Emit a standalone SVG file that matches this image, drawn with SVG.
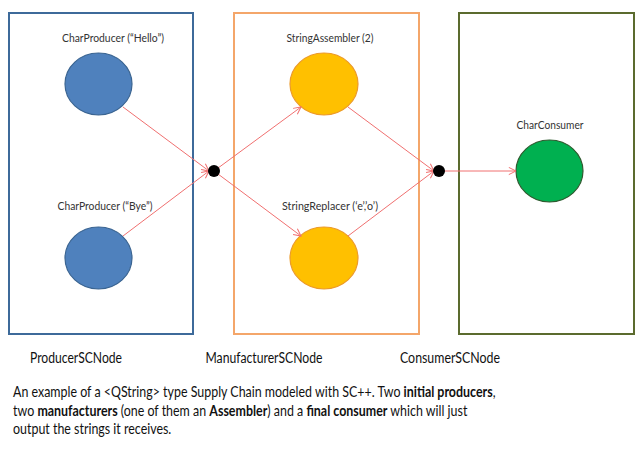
<svg xmlns="http://www.w3.org/2000/svg" width="640" height="456" viewBox="0 0 640 456">
<defs>
<style>
.box{fill:none;stroke-width:2}
.lbl{font-family:Lato,"Liberation Sans",sans-serif;font-size:11.5px;fill:#333;text-anchor:middle}
.big{font-family:Lato,"Liberation Sans",sans-serif;font-size:15.5px;fill:#111}
.cap{font-family:Lato,"Liberation Sans",sans-serif;font-size:14.8px;fill:#111}
.conn{stroke:#F07070;stroke-width:1;fill:none;marker-end:url(#arr)}
.dot{fill:#000}
</style>
<marker id="arr" viewBox="0 0 10 10" refX="9" refY="5" markerWidth="9" markerHeight="9" markerUnits="userSpaceOnUse" orient="auto">
<path d="M1,1 L9,5 L1,9" fill="none" stroke="#F07070" stroke-width="1.1"/>
</marker>
</defs>
<rect width="640" height="456" fill="#fff"/>
<g id="producerSCNode">
<rect class="box" x="9" y="13" width="184" height="321" stroke="#3D6A9A"/>
<text class="big" x="76" y="363" text-anchor="middle" textLength="92" lengthAdjust="spacingAndGlyphs">ProducerSCNode</text>
</g>
<g id="manufacturerSCNode">
<rect class="box" x="234" y="13" width="185" height="321" stroke="#F4A66A"/>
<text class="big" x="264" y="363" text-anchor="middle" textLength="117" lengthAdjust="spacingAndGlyphs">ManufacturerSCNode</text>
</g>
<g id="consumerSCNode">
<rect class="box" x="459" y="13" width="175" height="321" stroke="#5B6B2E"/>
<text class="big" x="450" y="363" text-anchor="middle" textLength="100" lengthAdjust="spacingAndGlyphs">ConsumerSCNode</text>
</g>
<g id="producerHello">
<ellipse cx="98.5" cy="84" rx="33.5" ry="31" fill="#4F81BD" stroke="#3A6491" stroke-width="1.2"/>
<text class="lbl" x="113" y="42" textLength="102" lengthAdjust="spacingAndGlyphs">CharProducer (“Hello”)</text>
</g>
<g id="producerBye">
<ellipse cx="98.5" cy="258" rx="33.5" ry="31" fill="#4F81BD" stroke="#3A6491" stroke-width="1.2"/>
<text class="lbl" x="105" y="210" textLength="95" lengthAdjust="spacingAndGlyphs">CharProducer (“Bye”)</text>
</g>
<g id="stringAssembler">
<ellipse cx="324" cy="84" rx="34" ry="31" fill="#FFC000" stroke="#EC9A2A" stroke-width="1.2"/>
<text class="lbl" x="330" y="42" textLength="87" lengthAdjust="spacingAndGlyphs">StringAssembler (2)</text>
</g>
<g id="stringReplacer">
<ellipse cx="324" cy="258" rx="34" ry="31" fill="#FFC000" stroke="#EC9A2A" stroke-width="1.2"/>
<text class="lbl" x="330" y="210" textLength="96" lengthAdjust="spacingAndGlyphs">StringReplacer (‘e’,’o’)</text>
</g>
<g id="charConsumer">
<ellipse cx="549.5" cy="171" rx="33.5" ry="31" fill="#00B050" stroke="#2F5A2F" stroke-width="1.2"/>
<text class="lbl" x="550" y="129" textLength="67" lengthAdjust="spacingAndGlyphs">CharConsumer</text>
</g>
<g id="connectors">
<line class="conn" x1="123" y1="107" x2="209" y2="171"/>
<line class="conn" x1="123" y1="236" x2="209" y2="171"/>
<line class="conn" x1="214" y1="171" x2="301" y2="107"/>
<line class="conn" x1="214" y1="171" x2="301" y2="236"/>
<line class="conn" x1="348" y1="107" x2="434" y2="171"/>
<line class="conn" x1="348" y1="236" x2="434" y2="171"/>
<line class="conn" x1="439" y1="171" x2="516" y2="171"/>
</g>
<g id="junction1"><circle class="dot" cx="214" cy="171" r="6"/></g>
<g id="junction2"><circle class="dot" cx="439" cy="171" r="6"/></g>
<g id="caption" transform="matrix(0.84 0 0 1 0 0)">
<text class="cap" x="15.5" y="397">An example of a &lt;QString&gt; type Supply Chain modeled with SC++. Two <tspan font-weight="bold">initial producers</tspan>,</text>
<text class="cap" x="15.5" y="416">two <tspan font-weight="bold">manufacturers</tspan> (one of them an <tspan font-weight="bold">Assembler</tspan>) and a <tspan font-weight="bold">final consumer</tspan> which will just</text>
<text class="cap" x="15.5" y="434">output the strings it receives.</text>
</g>
</svg>
